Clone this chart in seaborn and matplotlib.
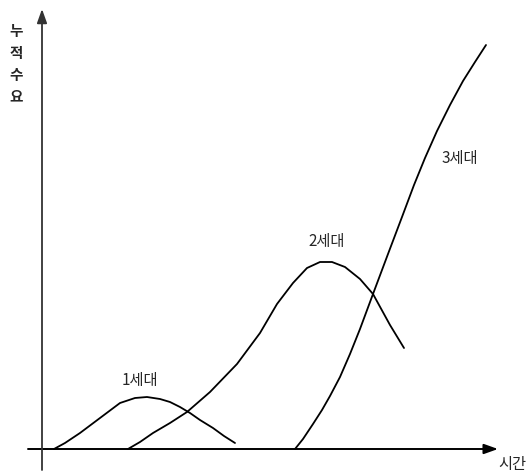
import matplotlib
matplotlib.use("Agg")
import matplotlib.pyplot as plt
import seaborn as sns
import pandas as pd

# Data (time, cumulative demand)
gen1_t = [54, 65, 80, 100, 120, 135, 147, 160, 170, 180, 190, 200, 213, 224, 235]
gen1_d = [0, 6, 16, 31, 46, 51, 52, 50, 47, 42, 36, 29, 21, 13, 6]
gen2_t = [128, 140, 153, 170, 187, 210, 237, 260, 277, 293, 307, 320, 332, 345, 360, 373, 390, 404]
gen2_d = [0, 7, 16, 26, 37, 57, 85, 116, 145, 166, 181, 187, 187, 182, 170, 155, 124, 101]
gen3_t = [295, 303, 313, 322, 330, 340, 350, 360, 373, 388, 402, 414, 425, 437, 450, 463, 475, 486]
gen3_d = [0, 10, 25, 39, 53, 72, 95, 120, 155, 195, 232, 264, 291, 318, 344, 368, 387, 404]
labels = ["1세대", "2세대", "3세대"]
y_label = "누적수요"
x_label = "시간"

sns.set_theme(style="white")
plt.rcParams['font.family'] = ['Noto Sans CJK KR', 'DejaVu Sans']

fig = plt.figure(figsize=(5.30, 4.74), dpi=100)
ax = fig.add_axes([0, 0, 1, 1])
ax.set_xlim(0, 530)
ax.set_ylim(-25, 449)
ax.axis('off')

frames = []
for name, t, d in zip(labels, [gen1_t, gen2_t, gen3_t], [gen1_d, gen2_d, gen3_d]):
    frames.append(pd.DataFrame({"t": t, "d": d, "gen": name}))
df = pd.concat(frames)
sns.lineplot(data=df, x="t", y="d", units="gen", estimator=None, color="black",
             linewidth=1.3, ax=ax, legend=False, sort=False)

# axes with arrows
ax.annotate("", xy=(498, 0), xytext=(28, 0),
            arrowprops=dict(arrowstyle="-|>,head_length=0.7,head_width=0.25", color="black", lw=1.4,
                            shrinkA=0, shrinkB=0))
ax.annotate("", xy=(42, 440), xytext=(42, -21),
            arrowprops=dict(arrowstyle="-|>,head_length=0.7,head_width=0.25", color="#333333", lw=1.3,
                            shrinkA=0, shrinkB=0))

# text
ax.text(140, 68, labels[0], ha="center", va="center", fontsize=11)
ax.text(327, 208, labels[1], ha="center", va="center", fontsize=11)
ax.text(460, 291, labels[2], ha="center", va="center", fontsize=11)
ax.text(16, 385, "\n".join(y_label), ha="center", va="center", fontsize=10.5,
        fontweight="bold", linespacing=1.45)
ax.text(512, -16, x_label, ha="center", va="center", fontsize=11)

fig.savefig("out.png", dpi=100)
